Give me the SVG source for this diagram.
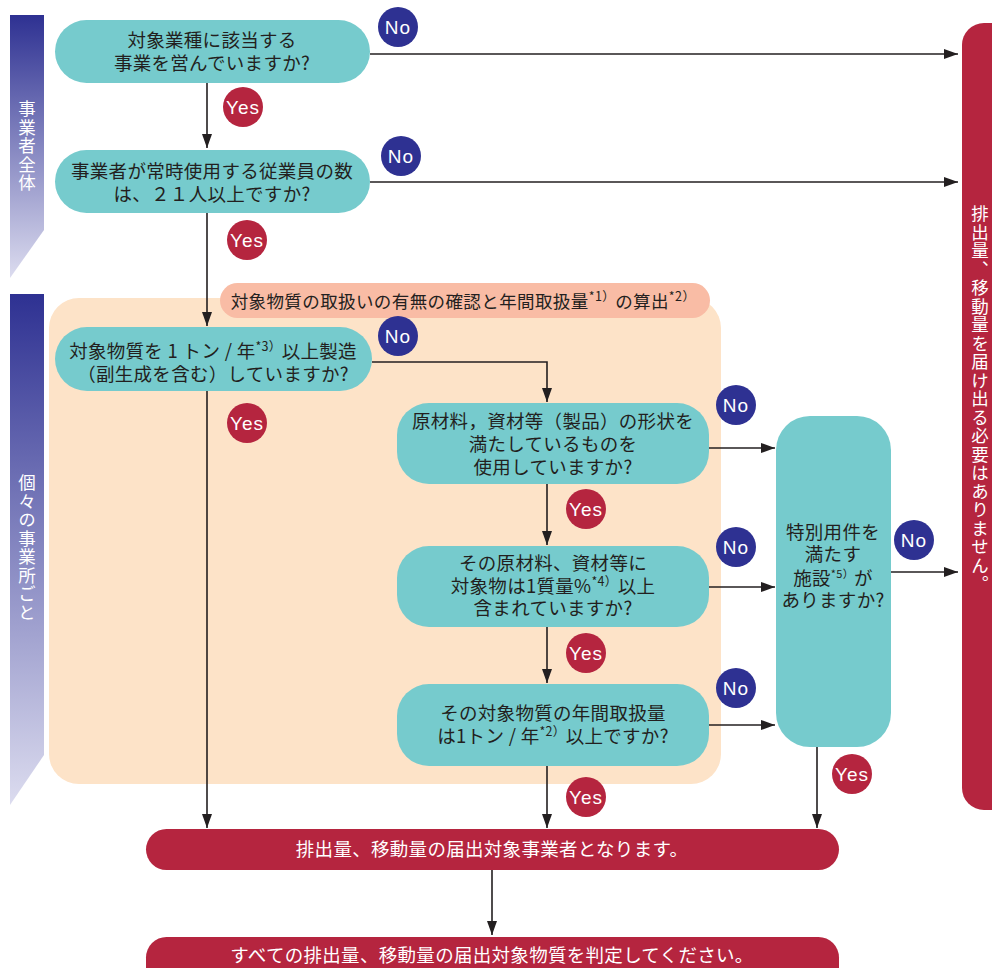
<svg xmlns="http://www.w3.org/2000/svg" width="992" height="968" viewBox="0 0 992 968">
<defs>
<linearGradient id="sideGrad" x1="0" y1="0" x2="0" y2="1">
<stop offset="0" stop-color="#2e3192"/>
<stop offset="1" stop-color="#dcdcef"/>
</linearGradient>
<marker id="arr" markerWidth="14" markerHeight="10" refX="14" refY="5" orient="auto" markerUnits="userSpaceOnUse">
<path d="M0,0 L14,5 L0,10 Z" fill="#231f20"/>
</marker>
<style>
.q{fill:#76cbcd}
.t{font-family:"Noto Sans CJK JP","Noto Sans CJK SC",sans-serif;font-size:18.5px;letter-spacing:0.3px;fill:#231f20;text-anchor:middle}
.w{font-family:"Noto Sans CJK JP","Noto Sans CJK SC",sans-serif;font-size:18.5px;letter-spacing:0.3px;fill:#ffffff;text-anchor:middle}
.v{font-family:"Noto Sans CJK JP","Noto Sans CJK SC",sans-serif;font-size:17.5px;letter-spacing:1px;fill:#ffffff;writing-mode:vertical-rl}
.sup{font-size:12.5px}
.yes{fill:#b5253f}
.no{fill:#2e3192}
.yn{font-family:"Liberation Sans",Arial,sans-serif;font-size:19px;letter-spacing:1px;fill:#ffffff;text-anchor:middle}
.ln{stroke:#231f20;stroke-width:1.6;fill:none}
</style>
</defs>
<rect width="992" height="968" fill="#ffffff"/>

<g id="sidebar-1">
<polygon points="10,15 44,15 44,230 10,278" fill="url(#sideGrad)"/>
<text class="v" x="27" y="100">事業者全体</text>
</g>
<g id="sidebar-2">
<polygon points="10,294 44,294 44,755 10,805" fill="url(#sideGrad)"/>
<text class="v" x="27" y="474">個々の事業所ごと</text>
</g>

<g id="area-individual">
<rect x="49" y="298" width="672" height="486" rx="30" fill="#fde3c8"/>
</g>
<g id="label-calc">
<rect x="220" y="283" width="490" height="35" rx="17.5" fill="#f9bca5"/>
<text class="t" x="463" y="308" style="font-size:17.5px;letter-spacing:0.4px">対象物質の取扱いの有無の確認と年間取扱量<tspan class="sup" dy="-7">*1）</tspan><tspan dy="7">の算出</tspan><tspan class="sup" dy="-7">*2）</tspan></text>
</g>

<g id="end-no">
<path d="M984,23 A22,22 0 0 0 962,45 L962,788 A22,22 0 0 0 984,810 L1010,810 L1010,23 Z" fill="#b5253f"/>
<text class="v" x="980" y="205">排出量、移動量を届け出る必要はありません。</text>
</g>

<g id="connectors">
<line class="ln" x1="370" y1="54" x2="958" y2="54" marker-end="url(#arr)"/>
<line class="ln" x1="370" y1="182" x2="958" y2="182" marker-end="url(#arr)"/>
<line class="ln" x1="207" y1="83" x2="207" y2="148" marker-end="url(#arr)"/>
<line class="ln" x1="207" y1="213" x2="207" y2="326" marker-end="url(#arr)"/>
<line class="ln" x1="207" y1="391" x2="207" y2="828" marker-end="url(#arr)"/>
<polyline class="ln" points="372,362 547,362 547,402" marker-end="url(#arr)"/>
<line class="ln" x1="547" y1="484" x2="547" y2="545" marker-end="url(#arr)"/>
<line class="ln" x1="547" y1="627" x2="547" y2="683" marker-end="url(#arr)"/>
<line class="ln" x1="547" y1="766" x2="547" y2="828" marker-end="url(#arr)"/>
<line class="ln" x1="709" y1="448" x2="775" y2="448" marker-end="url(#arr)"/>
<line class="ln" x1="709" y1="587" x2="775" y2="587" marker-end="url(#arr)"/>
<line class="ln" x1="709" y1="725" x2="775" y2="725" marker-end="url(#arr)"/>
<line class="ln" x1="891" y1="572" x2="958" y2="572" marker-end="url(#arr)"/>
<line class="ln" x1="817" y1="747" x2="817" y2="828" marker-end="url(#arr)"/>
<line class="ln" x1="492" y1="870" x2="492" y2="935" marker-end="url(#arr)"/>
</g>

<g id="q1">
<rect class="q" x="55" y="20" width="315" height="63" rx="31.5"/>
<text class="t" x="212" y="47">対象業種に該当する</text>
<text class="t" x="212" y="70">事業を営んでいますか?</text>
</g>
<g id="q2">
<rect class="q" x="55" y="150" width="315" height="63" rx="31.5"/>
<text class="t" x="212" y="178">事業者が常時使用する従業員の数</text>
<text class="t" x="212" y="201">は、２１人以上ですか?</text>
</g>
<g id="q3">
<rect class="q" x="55" y="327" width="317" height="64" rx="32"/>
<text class="t" x="213" y="358">対象物質を 1 トン / 年<tspan class="sup" dy="-7">*3）</tspan><tspan dy="7">以上製造</tspan></text>
<text class="t" x="213" y="381">（副生成を含む）していますか?</text>
</g>
<g id="q4">
<rect class="q" x="397" y="403" width="312" height="81" rx="32"/>
<text class="t" x="553" y="428">原材料，資材等（製品）の形状を</text>
<text class="t" x="553" y="451">満たしているものを</text>
<text class="t" x="553" y="474">使用していますか?</text>
</g>
<g id="q5">
<rect class="q" x="397" y="546" width="312" height="81" rx="32"/>
<text class="t" x="553" y="570">その原材料、資材等に</text>
<text class="t" x="553" y="593">対象物は1質量%<tspan class="sup" dy="-7">*4）</tspan><tspan dy="7">以上</tspan></text>
<text class="t" x="553" y="615">含まれていますか?</text>
</g>
<g id="q6">
<rect class="q" x="397" y="684" width="312" height="82" rx="32"/>
<text class="t" x="553" y="720">その対象物質の年間取扱量</text>
<text class="t" x="553" y="743">は1トン / 年<tspan class="sup" dy="-7">*2）</tspan><tspan dy="7">以上ですか?</tspan></text>
</g>
<g id="q7">
<rect class="q" x="776" y="416" width="115" height="331" rx="34"/>
<text class="t" x="833" y="539">特別用件を</text>
<text class="t" x="833" y="561">満たす</text>
<text class="t" x="833" y="585">施設<tspan class="sup" dy="-7" style="font-size:11px">*5）</tspan><tspan dy="7">が</tspan></text>
<text class="t" x="833" y="607">ありますか?</text>
</g>

<g id="end-yes">
<rect x="146" y="829" width="693" height="41" rx="20.5" fill="#b5253f"/>
<text class="w" x="492" y="856">排出量、移動量の届出対象事業者となります。</text>
</g>
<g id="final">
<rect x="146" y="937" width="693" height="60" rx="20.5" fill="#b5253f"/>
<text class="w" x="492" y="962">すべての排出量、移動量の届出対象物質を判定してください。</text>
</g>

<g id="labels-no">
<circle class="no" cx="398" cy="27" r="20"/><text class="yn" x="398" y="34">No</text>
<circle class="no" cx="401" cy="156" r="20"/><text class="yn" x="401" y="163">No</text>
<circle class="no" cx="398" cy="336" r="20"/><text class="yn" x="398" y="343">No</text>
<circle class="no" cx="736" cy="405" r="20"/><text class="yn" x="736" y="412">No</text>
<circle class="no" cx="736" cy="547" r="20"/><text class="yn" x="736" y="554">No</text>
<circle class="no" cx="736" cy="688" r="20"/><text class="yn" x="736" y="695">No</text>
<circle class="no" cx="914" cy="540" r="20"/><text class="yn" x="914" y="547">No</text>
</g>
<g id="labels-yes">
<circle class="yes" cx="243" cy="107" r="20"/><text class="yn" x="243" y="114">Yes</text>
<circle class="yes" cx="247" cy="240" r="20"/><text class="yn" x="247" y="247">Yes</text>
<circle class="yes" cx="247" cy="423" r="20"/><text class="yn" x="247" y="430">Yes</text>
<circle class="yes" cx="586" cy="509" r="20"/><text class="yn" x="586" y="516">Yes</text>
<circle class="yes" cx="586" cy="653" r="20"/><text class="yn" x="586" y="660">Yes</text>
<circle class="yes" cx="586" cy="797" r="20"/><text class="yn" x="586" y="804">Yes</text>
<circle class="yes" cx="852" cy="774" r="20"/><text class="yn" x="852" y="781">Yes</text>
</g>
</svg>
